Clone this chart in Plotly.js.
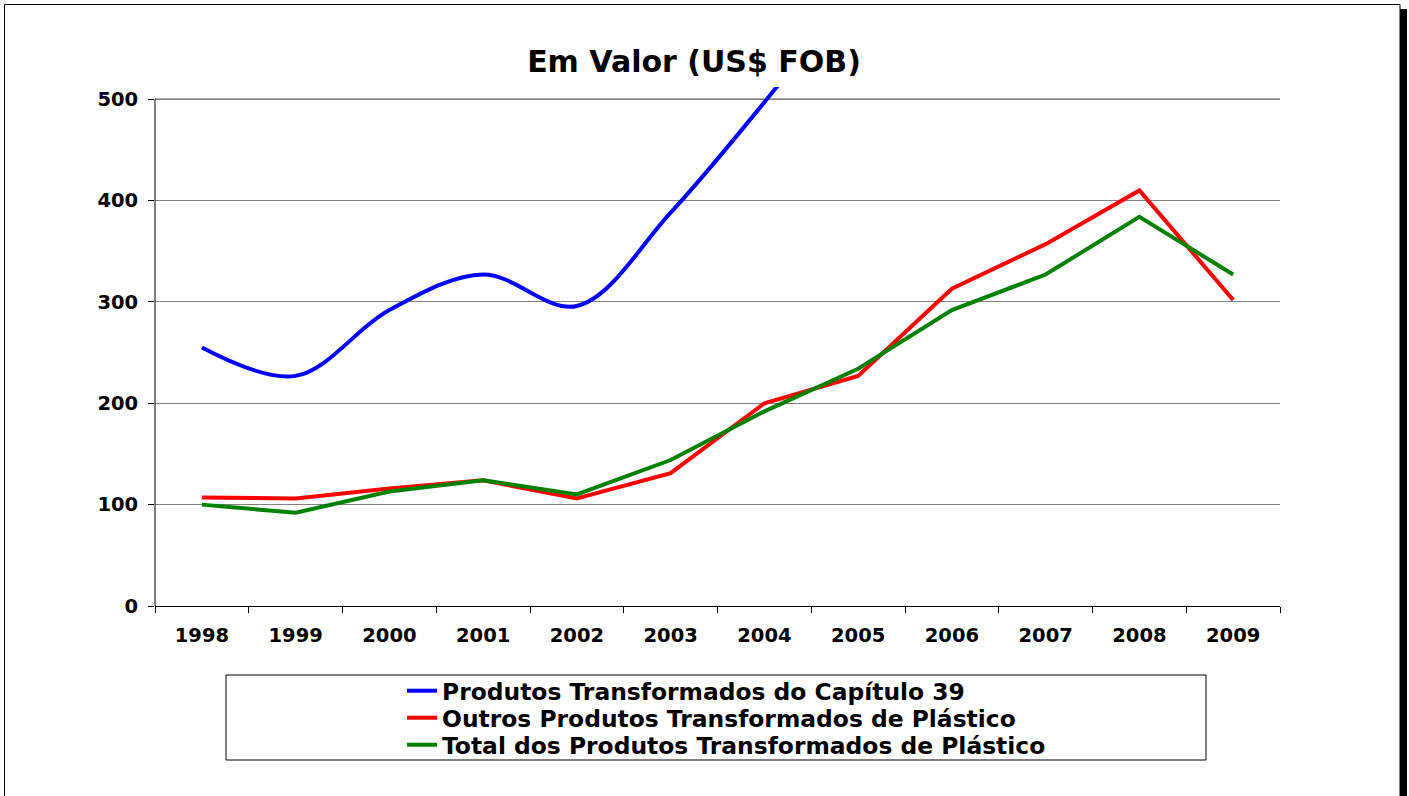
<!DOCTYPE html>
<html>
<head>
<meta charset="utf-8">
<script src="https://cdn.plot.ly/plotly-3.0.1.min.js"></script>
<style>
html,body{margin:0;padding:0;background:#fff;}
#chart{width:1409px;height:796px;}
</style>
</head>
<body>
<div id="chart"></div>
<script>
const years = ['1998','1999','2000','2001','2002','2003','2004','2005','2006','2007','2008','2009'];
const capitulo39 = [255, 227, 292, 327, 296, 388, 497, 615, 760, 880, 1050, 900];
const outros = [107, 106, 116, 124, 106, 131, 200, 227, 313, 357, 410, 302];
const total = [100, 92, 113, 124, 110, 144, 192, 234, 292, 327, 384, 327];
const seriesNames = [
  'Produtos Transformados do Capítulo 39',
  'Outros Produtos Transformados de Plástico',
  'Total dos Produtos Transformados de Plástico'
];
const yTicks = [0, 100, 200, 300, 400, 500];

const W = 1409, H = 796;
const L = 155, R = 1280, T = 87, B = 606;
const px = v => (v - L) / (R - L);
const py = v => (B - v) / (B - T);

const fontFam = '"DejaVu Sans", Verdana, sans-serif';
const legFont = {family: fontFam, size: 23.4, color: '#000', weight: 'bold'};
const legendRows = [691, 718, 745];

const traces = [
  {x: years, y: capitulo39, name: seriesNames[0], type: 'scatter', mode: 'lines', legend: 'legend',
   line: {color: '#0000FF', width: 4, shape: 'spline', smoothing: 1}},
  {x: years, y: outros, name: seriesNames[1], type: 'scatter', mode: 'lines', legend: 'legend2',
   line: {color: '#FF0000', width: 4}},
  {x: years, y: total, name: seriesNames[2], type: 'scatter', mode: 'lines', legend: 'legend3',
   line: {color: '#008000', width: 4}}
];

function leg(row) {
  return {x: px(402), y: py(row), xanchor: 'left', yanchor: 'middle',
          bgcolor: 'rgba(0,0,0,0)', borderwidth: 0, font: legFont, itemwidth: 30};
}

const layout = {
  width: W, height: H,
  paper_bgcolor: '#ffffff', plot_bgcolor: '#ffffff',
  margin: {l: L, r: W - R, t: T, b: H - B, pad: 0},
  title: {text: 'Em Valor (US$ FOB)', font: {family: fontFam, size: 30, color: '#000', weight: 'bold'},
          x: 694 / W, xanchor: 'center', xref: 'container', y: 1 - 61 / H, yanchor: 'middle', yref: 'container'},
  showlegend: true,
  legend: leg(legendRows[0]),
  legend2: leg(legendRows[1]),
  legend3: leg(legendRows[2]),
  xaxis: {type: 'category', range: [-0.5, 11.5], showgrid: false, zeroline: false,
          showline: true, linecolor: '#000', linewidth: 1,
          ticks: 'outside', tickson: 'boundaries', ticklen: 6, tickcolor: '#000', tickwidth: 1,
          tickfont: {family: fontFam, size: 19.5, color: '#000', weight: 'bold'},
          ticklabelstandoff: 12, fixedrange: true},
  yaxis: {range: [0, 512], tickvals: yTicks, ticktext: yTicks.map(String),
          showgrid: true, gridcolor: '#808080', gridwidth: 1, zeroline: false,
          showline: false, ticks: 'outside', ticklen: 6, tickcolor: '#000', tickwidth: 1,
          tickfont: {family: fontFam, size: 19.5, color: '#000', weight: 'bold'},
          ticklabelstandoff: 6, fixedrange: true},
  shapes: [
    {type: 'line', xref: 'paper', yref: 'y', x0: 0, x1: 1, y0: 500, y1: 500, line: {color: '#000', width: 1}, layer: 'below'},
    {type: 'line', xref: 'paper', yref: 'y', x0: 0, x1: 0, y0: 0, y1: 500, line: {color: '#000', width: 1}, layer: 'above'},
    {type: 'rect', xref: 'paper', yref: 'paper', x0: px(226), x1: px(1206), y0: py(760), y1: py(675), line: {color: '#000', width: 1}, fillcolor: 'rgba(0,0,0,0)'},
    {type: 'rect', xref: 'paper', yref: 'paper', x0: px(4.5), x1: px(1400), y0: py(820), y1: py(4.5), line: {color: '#000', width: 1}, fillcolor: 'rgba(0,0,0,0)'},
    {type: 'rect', xref: 'paper', yref: 'paper', x0: px(1400), x1: px(1407), y0: py(820), y1: py(9), line: {width: 0}, fillcolor: '#000'}
  ]
};

Plotly.newPlot('chart', traces, layout, {displayModeBar: false, staticPlot: true});
</script>
</body>
</html>
